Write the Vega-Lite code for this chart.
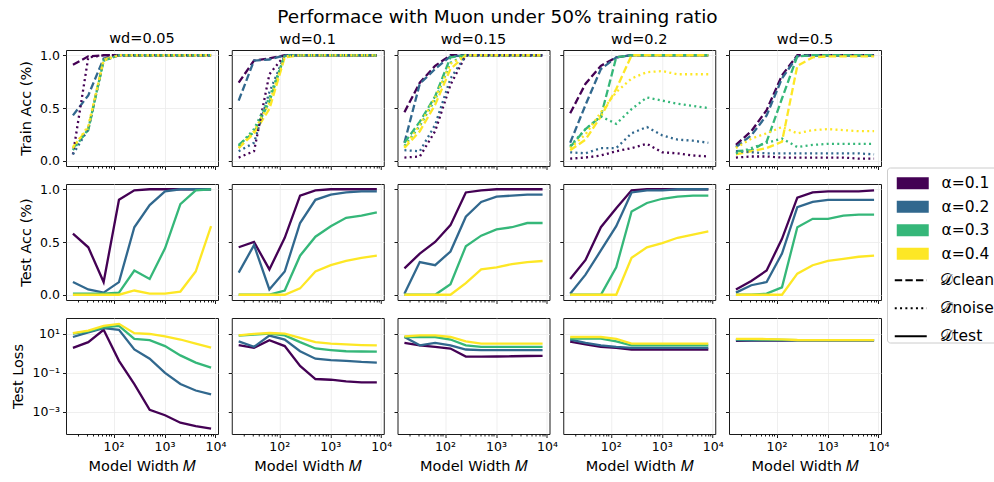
{
"$schema":"https://vega.github.io/schema/vega-lite/v6.json",
"padding":{"left":10,"top":8,"right":0,"bottom":0},
"title":{"text":"Performace with Muon under 50% training ratio","fontSize":18.5,"offset":3.5,"anchor":"middle","dx":-7},
"config":{
 "font":"DejaVu Sans",
 "view":{"continuousWidth":152,"continuousHeight":116,"stroke":"#1a1a1a","strokeWidth":1},
 "axis":{"domain":false,"tickColor":"#000","tickSize":3.5,"tickWidth":0.9,"labelFontSize":12.5,"labelColor":"#000","labelPadding":3,"titleFontSize":14.5,"titleFontWeight":"normal","titleColor":"#000","gridColor":"#ebebeb","gridWidth":0.8,"labelFlush":false,"labelOverlap":false,"titlePadding":6},
 "title":{"fontSize":14.5,"fontWeight":"normal","offset":3,"color":"#000"}
},
"columns":5,
"spacing":{"row":18,"column":13.75},
"bounds":"flush",
"resolve":{"scale":{"x":"independent","y":"independent","color":"shared","strokeDash":"shared"}},
"datasets":{
"t1":[
{"a":"α=0.1","t":"c","m":16,"v":0.91},{"a":"α=0.1","t":"c","m":32,"v":0.99},{"a":"α=0.1","t":"c","m":64,"v":1},{"a":"α=0.1","t":"c","m":128,"v":1},{"a":"α=0.1","t":"c","m":256,"v":1},{"a":"α=0.1","t":"c","m":512,"v":1},{"a":"α=0.1","t":"c","m":1024,"v":1},{"a":"α=0.1","t":"c","m":2048,"v":1},{"a":"α=0.1","t":"c","m":4096,"v":1},{"a":"α=0.1","t":"c","m":8192,"v":1},
{"a":"α=0.2","t":"c","m":16,"v":0.43},{"a":"α=0.2","t":"c","m":32,"v":0.62},{"a":"α=0.2","t":"c","m":64,"v":0.97},{"a":"α=0.2","t":"c","m":128,"v":1},{"a":"α=0.2","t":"c","m":256,"v":1},{"a":"α=0.2","t":"c","m":512,"v":1},{"a":"α=0.2","t":"c","m":1024,"v":1},{"a":"α=0.2","t":"c","m":2048,"v":1},{"a":"α=0.2","t":"c","m":4096,"v":1},{"a":"α=0.2","t":"c","m":8192,"v":1},
{"a":"α=0.3","t":"c","m":16,"v":0.12},{"a":"α=0.3","t":"c","m":32,"v":0.29},{"a":"α=0.3","t":"c","m":64,"v":0.95},{"a":"α=0.3","t":"c","m":128,"v":1},{"a":"α=0.3","t":"c","m":256,"v":1},{"a":"α=0.3","t":"c","m":512,"v":1},{"a":"α=0.3","t":"c","m":1024,"v":1},{"a":"α=0.3","t":"c","m":2048,"v":1},{"a":"α=0.3","t":"c","m":4096,"v":1},{"a":"α=0.3","t":"c","m":8192,"v":1},
{"a":"α=0.4","t":"c","m":16,"v":0.13},{"a":"α=0.4","t":"c","m":32,"v":0.31},{"a":"α=0.4","t":"c","m":64,"v":0.96},{"a":"α=0.4","t":"c","m":128,"v":1},{"a":"α=0.4","t":"c","m":256,"v":1},{"a":"α=0.4","t":"c","m":512,"v":1},{"a":"α=0.4","t":"c","m":1024,"v":1},{"a":"α=0.4","t":"c","m":2048,"v":1},{"a":"α=0.4","t":"c","m":4096,"v":1},{"a":"α=0.4","t":"c","m":8192,"v":1},
{"a":"α=0.1","t":"n","m":16,"v":0.06},{"a":"α=0.1","t":"n","m":32,"v":0.98},{"a":"α=0.1","t":"n","m":64,"v":1},{"a":"α=0.1","t":"n","m":128,"v":1},{"a":"α=0.1","t":"n","m":256,"v":1},{"a":"α=0.1","t":"n","m":512,"v":1},{"a":"α=0.1","t":"n","m":1024,"v":1},{"a":"α=0.1","t":"n","m":2048,"v":1},{"a":"α=0.1","t":"n","m":4096,"v":1},{"a":"α=0.1","t":"n","m":8192,"v":1},
{"a":"α=0.2","t":"n","m":16,"v":0.06},{"a":"α=0.2","t":"n","m":32,"v":0.30},{"a":"α=0.2","t":"n","m":64,"v":0.95},{"a":"α=0.2","t":"n","m":128,"v":1},{"a":"α=0.2","t":"n","m":256,"v":1},{"a":"α=0.2","t":"n","m":512,"v":1},{"a":"α=0.2","t":"n","m":1024,"v":1},{"a":"α=0.2","t":"n","m":2048,"v":1},{"a":"α=0.2","t":"n","m":4096,"v":1},{"a":"α=0.2","t":"n","m":8192,"v":1},
{"a":"α=0.3","t":"n","m":16,"v":0.10},{"a":"α=0.3","t":"n","m":32,"v":0.30},{"a":"α=0.3","t":"n","m":64,"v":0.95},{"a":"α=0.3","t":"n","m":128,"v":1},{"a":"α=0.3","t":"n","m":256,"v":1},{"a":"α=0.3","t":"n","m":512,"v":1},{"a":"α=0.3","t":"n","m":1024,"v":1},{"a":"α=0.3","t":"n","m":2048,"v":1},{"a":"α=0.3","t":"n","m":4096,"v":1},{"a":"α=0.3","t":"n","m":8192,"v":1},
{"a":"α=0.4","t":"n","m":16,"v":0.12},{"a":"α=0.4","t":"n","m":32,"v":0.33},{"a":"α=0.4","t":"n","m":64,"v":0.95},{"a":"α=0.4","t":"n","m":128,"v":1},{"a":"α=0.4","t":"n","m":256,"v":1},{"a":"α=0.4","t":"n","m":512,"v":1},{"a":"α=0.4","t":"n","m":1024,"v":1},{"a":"α=0.4","t":"n","m":2048,"v":1},{"a":"α=0.4","t":"n","m":4096,"v":1},{"a":"α=0.4","t":"n","m":8192,"v":1}
],
"t2":[
{"a":"α=0.1","t":"c","m":16,"v":0.74},{"a":"α=0.1","t":"c","m":32,"v":0.95},{"a":"α=0.1","t":"c","m":64,"v":0.97},{"a":"α=0.1","t":"c","m":128,"v":1},{"a":"α=0.1","t":"c","m":256,"v":1},{"a":"α=0.1","t":"c","m":512,"v":1},{"a":"α=0.1","t":"c","m":1024,"v":1},{"a":"α=0.1","t":"c","m":2048,"v":1},{"a":"α=0.1","t":"c","m":4096,"v":1},{"a":"α=0.1","t":"c","m":8192,"v":1},
{"a":"α=0.2","t":"c","m":16,"v":0.57},{"a":"α=0.2","t":"c","m":32,"v":0.95},{"a":"α=0.2","t":"c","m":64,"v":0.96},{"a":"α=0.2","t":"c","m":128,"v":1},{"a":"α=0.2","t":"c","m":256,"v":1},{"a":"α=0.2","t":"c","m":512,"v":1},{"a":"α=0.2","t":"c","m":1024,"v":1},{"a":"α=0.2","t":"c","m":2048,"v":1},{"a":"α=0.2","t":"c","m":4096,"v":1},{"a":"α=0.2","t":"c","m":8192,"v":1},
{"a":"α=0.3","t":"c","m":16,"v":0.15},{"a":"α=0.3","t":"c","m":32,"v":0.27},{"a":"α=0.3","t":"c","m":64,"v":0.56},{"a":"α=0.3","t":"c","m":128,"v":1},{"a":"α=0.3","t":"c","m":256,"v":1},{"a":"α=0.3","t":"c","m":512,"v":1},{"a":"α=0.3","t":"c","m":1024,"v":1},{"a":"α=0.3","t":"c","m":2048,"v":1},{"a":"α=0.3","t":"c","m":4096,"v":1},{"a":"α=0.3","t":"c","m":8192,"v":1},
{"a":"α=0.4","t":"c","m":16,"v":0.12},{"a":"α=0.4","t":"c","m":32,"v":0.26},{"a":"α=0.4","t":"c","m":64,"v":0.49},{"a":"α=0.4","t":"c","m":128,"v":0.98},{"a":"α=0.4","t":"c","m":256,"v":1},{"a":"α=0.4","t":"c","m":512,"v":1},{"a":"α=0.4","t":"c","m":1024,"v":1},{"a":"α=0.4","t":"c","m":2048,"v":1},{"a":"α=0.4","t":"c","m":4096,"v":1},{"a":"α=0.4","t":"c","m":8192,"v":1},
{"a":"α=0.1","t":"n","m":16,"v":0.03},{"a":"α=0.1","t":"n","m":32,"v":0.09},{"a":"α=0.1","t":"n","m":64,"v":0.82},{"a":"α=0.1","t":"n","m":128,"v":1},{"a":"α=0.1","t":"n","m":256,"v":1},{"a":"α=0.1","t":"n","m":512,"v":1},{"a":"α=0.1","t":"n","m":1024,"v":1},{"a":"α=0.1","t":"n","m":2048,"v":1},{"a":"α=0.1","t":"n","m":4096,"v":1},{"a":"α=0.1","t":"n","m":8192,"v":1},
{"a":"α=0.2","t":"n","m":16,"v":0.09},{"a":"α=0.2","t":"n","m":32,"v":0.17},{"a":"α=0.2","t":"n","m":64,"v":0.65},{"a":"α=0.2","t":"n","m":128,"v":1},{"a":"α=0.2","t":"n","m":256,"v":1},{"a":"α=0.2","t":"n","m":512,"v":1},{"a":"α=0.2","t":"n","m":1024,"v":1},{"a":"α=0.2","t":"n","m":2048,"v":1},{"a":"α=0.2","t":"n","m":4096,"v":1},{"a":"α=0.2","t":"n","m":8192,"v":1},
{"a":"α=0.3","t":"n","m":16,"v":0.14},{"a":"α=0.3","t":"n","m":32,"v":0.30},{"a":"α=0.3","t":"n","m":64,"v":0.60},{"a":"α=0.3","t":"n","m":128,"v":1},{"a":"α=0.3","t":"n","m":256,"v":1},{"a":"α=0.3","t":"n","m":512,"v":1},{"a":"α=0.3","t":"n","m":1024,"v":1},{"a":"α=0.3","t":"n","m":2048,"v":1},{"a":"α=0.3","t":"n","m":4096,"v":1},{"a":"α=0.3","t":"n","m":8192,"v":1},
{"a":"α=0.4","t":"n","m":16,"v":0.12},{"a":"α=0.4","t":"n","m":32,"v":0.28},{"a":"α=0.4","t":"n","m":64,"v":0.55},{"a":"α=0.4","t":"n","m":128,"v":0.99},{"a":"α=0.4","t":"n","m":256,"v":1},{"a":"α=0.4","t":"n","m":512,"v":1},{"a":"α=0.4","t":"n","m":1024,"v":1},{"a":"α=0.4","t":"n","m":2048,"v":1},{"a":"α=0.4","t":"n","m":4096,"v":1},{"a":"α=0.4","t":"n","m":8192,"v":1}
],
"t3":[
{"a":"α=0.1","t":"c","m":16,"v":0.46},{"a":"α=0.1","t":"c","m":32,"v":0.74},{"a":"α=0.1","t":"c","m":64,"v":0.90},{"a":"α=0.1","t":"c","m":128,"v":1},{"a":"α=0.1","t":"c","m":256,"v":1},{"a":"α=0.1","t":"c","m":512,"v":1},{"a":"α=0.1","t":"c","m":1024,"v":1},{"a":"α=0.1","t":"c","m":2048,"v":1},{"a":"α=0.1","t":"c","m":4096,"v":1},{"a":"α=0.1","t":"c","m":8192,"v":1},
{"a":"α=0.2","t":"c","m":16,"v":0.17},{"a":"α=0.2","t":"c","m":32,"v":0.73},{"a":"α=0.2","t":"c","m":64,"v":0.87},{"a":"α=0.2","t":"c","m":128,"v":0.99},{"a":"α=0.2","t":"c","m":256,"v":1},{"a":"α=0.2","t":"c","m":512,"v":1},{"a":"α=0.2","t":"c","m":1024,"v":1},{"a":"α=0.2","t":"c","m":2048,"v":1},{"a":"α=0.2","t":"c","m":4096,"v":1},{"a":"α=0.2","t":"c","m":8192,"v":1},
{"a":"α=0.3","t":"c","m":16,"v":0.17},{"a":"α=0.3","t":"c","m":32,"v":0.37},{"a":"α=0.3","t":"c","m":64,"v":0.61},{"a":"α=0.3","t":"c","m":128,"v":0.98},{"a":"α=0.3","t":"c","m":256,"v":1},{"a":"α=0.3","t":"c","m":512,"v":1},{"a":"α=0.3","t":"c","m":1024,"v":1},{"a":"α=0.3","t":"c","m":2048,"v":1},{"a":"α=0.3","t":"c","m":4096,"v":1},{"a":"α=0.3","t":"c","m":8192,"v":1},
{"a":"α=0.4","t":"c","m":16,"v":0.12},{"a":"α=0.4","t":"c","m":32,"v":0.28},{"a":"α=0.4","t":"c","m":64,"v":0.53},{"a":"α=0.4","t":"c","m":128,"v":0.87},{"a":"α=0.4","t":"c","m":256,"v":1},{"a":"α=0.4","t":"c","m":512,"v":1},{"a":"α=0.4","t":"c","m":1024,"v":1},{"a":"α=0.4","t":"c","m":2048,"v":1},{"a":"α=0.4","t":"c","m":4096,"v":1},{"a":"α=0.4","t":"c","m":8192,"v":1},
{"a":"α=0.1","t":"n","m":16,"v":0.03},{"a":"α=0.1","t":"n","m":32,"v":0.04},{"a":"α=0.1","t":"n","m":64,"v":0.28},{"a":"α=0.1","t":"n","m":128,"v":0.72},{"a":"α=0.1","t":"n","m":256,"v":1},{"a":"α=0.1","t":"n","m":512,"v":1},{"a":"α=0.1","t":"n","m":1024,"v":1},{"a":"α=0.1","t":"n","m":2048,"v":1},{"a":"α=0.1","t":"n","m":4096,"v":1},{"a":"α=0.1","t":"n","m":8192,"v":1},
{"a":"α=0.2","t":"n","m":16,"v":0.10},{"a":"α=0.2","t":"n","m":32,"v":0.09},{"a":"α=0.2","t":"n","m":64,"v":0.34},{"a":"α=0.2","t":"n","m":128,"v":0.78},{"a":"α=0.2","t":"n","m":256,"v":1},{"a":"α=0.2","t":"n","m":512,"v":1},{"a":"α=0.2","t":"n","m":1024,"v":1},{"a":"α=0.2","t":"n","m":2048,"v":1},{"a":"α=0.2","t":"n","m":4096,"v":1},{"a":"α=0.2","t":"n","m":8192,"v":1},
{"a":"α=0.3","t":"n","m":16,"v":0.14},{"a":"α=0.3","t":"n","m":32,"v":0.33},{"a":"α=0.3","t":"n","m":64,"v":0.58},{"a":"α=0.3","t":"n","m":128,"v":0.93},{"a":"α=0.3","t":"n","m":256,"v":1},{"a":"α=0.3","t":"n","m":512,"v":1},{"a":"α=0.3","t":"n","m":1024,"v":1},{"a":"α=0.3","t":"n","m":2048,"v":1},{"a":"α=0.3","t":"n","m":4096,"v":1},{"a":"α=0.3","t":"n","m":8192,"v":1},
{"a":"α=0.4","t":"n","m":16,"v":0.13},{"a":"α=0.4","t":"n","m":32,"v":0.34},{"a":"α=0.4","t":"n","m":64,"v":0.60},{"a":"α=0.4","t":"n","m":128,"v":0.92},{"a":"α=0.4","t":"n","m":256,"v":1},{"a":"α=0.4","t":"n","m":512,"v":1},{"a":"α=0.4","t":"n","m":1024,"v":1},{"a":"α=0.4","t":"n","m":2048,"v":1},{"a":"α=0.4","t":"n","m":4096,"v":1},{"a":"α=0.4","t":"n","m":8192,"v":1}
],
"t4":[
{"a":"α=0.1","t":"c","m":16,"v":0.45},{"a":"α=0.1","t":"c","m":32,"v":0.73},{"a":"α=0.1","t":"c","m":64,"v":0.90},{"a":"α=0.1","t":"c","m":128,"v":0.98},{"a":"α=0.1","t":"c","m":256,"v":1},{"a":"α=0.1","t":"c","m":512,"v":1},{"a":"α=0.1","t":"c","m":1024,"v":1},{"a":"α=0.1","t":"c","m":2048,"v":1},{"a":"α=0.1","t":"c","m":4096,"v":1},{"a":"α=0.1","t":"c","m":8192,"v":1},
{"a":"α=0.2","t":"c","m":16,"v":0.17},{"a":"α=0.2","t":"c","m":32,"v":0.53},{"a":"α=0.2","t":"c","m":64,"v":0.87},{"a":"α=0.2","t":"c","m":128,"v":0.98},{"a":"α=0.2","t":"c","m":256,"v":1},{"a":"α=0.2","t":"c","m":512,"v":1},{"a":"α=0.2","t":"c","m":1024,"v":1},{"a":"α=0.2","t":"c","m":2048,"v":1},{"a":"α=0.2","t":"c","m":4096,"v":1},{"a":"α=0.2","t":"c","m":8192,"v":1},
{"a":"α=0.3","t":"c","m":16,"v":0.13},{"a":"α=0.3","t":"c","m":32,"v":0.30},{"a":"α=0.3","t":"c","m":64,"v":0.42},{"a":"α=0.3","t":"c","m":128,"v":0.98},{"a":"α=0.3","t":"c","m":256,"v":1},{"a":"α=0.3","t":"c","m":512,"v":1},{"a":"α=0.3","t":"c","m":1024,"v":1},{"a":"α=0.3","t":"c","m":2048,"v":1},{"a":"α=0.3","t":"c","m":4096,"v":1},{"a":"α=0.3","t":"c","m":8192,"v":1},
{"a":"α=0.4","t":"c","m":16,"v":0.10},{"a":"α=0.4","t":"c","m":32,"v":0.20},{"a":"α=0.4","t":"c","m":64,"v":0.42},{"a":"α=0.4","t":"c","m":128,"v":0.68},{"a":"α=0.4","t":"c","m":256,"v":1},{"a":"α=0.4","t":"c","m":512,"v":1},{"a":"α=0.4","t":"c","m":1024,"v":1},{"a":"α=0.4","t":"c","m":2048,"v":1},{"a":"α=0.4","t":"c","m":4096,"v":1},{"a":"α=0.4","t":"c","m":8192,"v":1},
{"a":"α=0.1","t":"n","m":16,"v":0.02},{"a":"α=0.1","t":"n","m":32,"v":0.03},{"a":"α=0.1","t":"n","m":64,"v":0.05},{"a":"α=0.1","t":"n","m":128,"v":0.09},{"a":"α=0.1","t":"n","m":256,"v":0.12},{"a":"α=0.1","t":"n","m":512,"v":0.16},{"a":"α=0.1","t":"n","m":1024,"v":0.08},{"a":"α=0.1","t":"n","m":2048,"v":0.07},{"a":"α=0.1","t":"n","m":4096,"v":0.05},{"a":"α=0.1","t":"n","m":8192,"v":0.04},
{"a":"α=0.2","t":"n","m":16,"v":0.08},{"a":"α=0.2","t":"n","m":32,"v":0.07},{"a":"α=0.2","t":"n","m":64,"v":0.12},{"a":"α=0.2","t":"n","m":128,"v":0.12},{"a":"α=0.2","t":"n","m":256,"v":0.26},{"a":"α=0.2","t":"n","m":512,"v":0.32},{"a":"α=0.2","t":"n","m":1024,"v":0.24},{"a":"α=0.2","t":"n","m":2048,"v":0.20},{"a":"α=0.2","t":"n","m":4096,"v":0.19},{"a":"α=0.2","t":"n","m":8192,"v":0.17},
{"a":"α=0.3","t":"n","m":16,"v":0.14},{"a":"α=0.3","t":"n","m":32,"v":0.30},{"a":"α=0.3","t":"n","m":64,"v":0.42},{"a":"α=0.3","t":"n","m":128,"v":0.35},{"a":"α=0.3","t":"n","m":256,"v":0.49},{"a":"α=0.3","t":"n","m":512,"v":0.60},{"a":"α=0.3","t":"n","m":1024,"v":0.57},{"a":"α=0.3","t":"n","m":2048,"v":0.54},{"a":"α=0.3","t":"n","m":4096,"v":0.52},{"a":"α=0.3","t":"n","m":8192,"v":0.50},
{"a":"α=0.4","t":"n","m":16,"v":0.12},{"a":"α=0.4","t":"n","m":32,"v":0.25},{"a":"α=0.4","t":"n","m":64,"v":0.46},{"a":"α=0.4","t":"n","m":128,"v":0.65},{"a":"α=0.4","t":"n","m":256,"v":0.78},{"a":"α=0.4","t":"n","m":512,"v":0.84},{"a":"α=0.4","t":"n","m":1024,"v":0.85},{"a":"α=0.4","t":"n","m":2048,"v":0.82},{"a":"α=0.4","t":"n","m":4096,"v":0.82},{"a":"α=0.4","t":"n","m":8192,"v":0.82}
],
"t5":[
{"a":"α=0.1","t":"c","m":16,"v":0.15},{"a":"α=0.1","t":"c","m":32,"v":0.28},{"a":"α=0.1","t":"c","m":64,"v":0.48},{"a":"α=0.1","t":"c","m":128,"v":0.81},{"a":"α=0.1","t":"c","m":256,"v":1},{"a":"α=0.1","t":"c","m":512,"v":1},{"a":"α=0.1","t":"c","m":1024,"v":1},{"a":"α=0.1","t":"c","m":2048,"v":1},{"a":"α=0.1","t":"c","m":4096,"v":1},{"a":"α=0.1","t":"c","m":8192,"v":1},
{"a":"α=0.2","t":"c","m":16,"v":0.13},{"a":"α=0.2","t":"c","m":32,"v":0.24},{"a":"α=0.2","t":"c","m":64,"v":0.43},{"a":"α=0.2","t":"c","m":128,"v":0.78},{"a":"α=0.2","t":"c","m":256,"v":0.99},{"a":"α=0.2","t":"c","m":512,"v":1},{"a":"α=0.2","t":"c","m":1024,"v":1},{"a":"α=0.2","t":"c","m":2048,"v":1},{"a":"α=0.2","t":"c","m":4096,"v":1},{"a":"α=0.2","t":"c","m":8192,"v":1},
{"a":"α=0.3","t":"c","m":16,"v":0.09},{"a":"α=0.3","t":"c","m":32,"v":0.10},{"a":"α=0.3","t":"c","m":64,"v":0.18},{"a":"α=0.3","t":"c","m":128,"v":0.59},{"a":"α=0.3","t":"c","m":256,"v":0.99},{"a":"α=0.3","t":"c","m":512,"v":1},{"a":"α=0.3","t":"c","m":1024,"v":1},{"a":"α=0.3","t":"c","m":2048,"v":1},{"a":"α=0.3","t":"c","m":4096,"v":1},{"a":"α=0.3","t":"c","m":8192,"v":1},
{"a":"α=0.4","t":"c","m":16,"v":0.06},{"a":"α=0.4","t":"c","m":32,"v":0.09},{"a":"α=0.4","t":"c","m":64,"v":0.12},{"a":"α=0.4","t":"c","m":128,"v":0.18},{"a":"α=0.4","t":"c","m":256,"v":0.90},{"a":"α=0.4","t":"c","m":512,"v":0.98},{"a":"α=0.4","t":"c","m":1024,"v":0.99},{"a":"α=0.4","t":"c","m":2048,"v":0.99},{"a":"α=0.4","t":"c","m":4096,"v":0.99},{"a":"α=0.4","t":"c","m":8192,"v":0.99},
{"a":"α=0.1","t":"n","m":16,"v":0.03},{"a":"α=0.1","t":"n","m":32,"v":0.04},{"a":"α=0.1","t":"n","m":64,"v":0.04},{"a":"α=0.1","t":"n","m":128,"v":0.03},{"a":"α=0.1","t":"n","m":256,"v":0.03},{"a":"α=0.1","t":"n","m":512,"v":0.03},{"a":"α=0.1","t":"n","m":1024,"v":0.03},{"a":"α=0.1","t":"n","m":2048,"v":0.03},{"a":"α=0.1","t":"n","m":4096,"v":0.02},{"a":"α=0.1","t":"n","m":8192,"v":0.02},
{"a":"α=0.2","t":"n","m":16,"v":0.09},{"a":"α=0.2","t":"n","m":32,"v":0.08},{"a":"α=0.2","t":"n","m":64,"v":0.07},{"a":"α=0.2","t":"n","m":128,"v":0.07},{"a":"α=0.2","t":"n","m":256,"v":0.07},{"a":"α=0.2","t":"n","m":512,"v":0.07},{"a":"α=0.2","t":"n","m":1024,"v":0.07},{"a":"α=0.2","t":"n","m":2048,"v":0.07},{"a":"α=0.2","t":"n","m":4096,"v":0.07},{"a":"α=0.2","t":"n","m":8192,"v":0.06},
{"a":"α=0.3","t":"n","m":16,"v":0.07},{"a":"α=0.3","t":"n","m":32,"v":0.12},{"a":"α=0.3","t":"n","m":64,"v":0.17},{"a":"α=0.3","t":"n","m":128,"v":0.21},{"a":"α=0.3","t":"n","m":256,"v":0.13},{"a":"α=0.3","t":"n","m":512,"v":0.15},{"a":"α=0.3","t":"n","m":1024,"v":0.16},{"a":"α=0.3","t":"n","m":2048,"v":0.16},{"a":"α=0.3","t":"n","m":4096,"v":0.16},{"a":"α=0.3","t":"n","m":8192,"v":0.16},
{"a":"α=0.4","t":"n","m":16,"v":0.12},{"a":"α=0.4","t":"n","m":32,"v":0.21},{"a":"α=0.4","t":"n","m":64,"v":0.26},{"a":"α=0.4","t":"n","m":128,"v":0.32},{"a":"α=0.4","t":"n","m":256,"v":0.26},{"a":"α=0.4","t":"n","m":512,"v":0.29},{"a":"α=0.4","t":"n","m":1024,"v":0.30},{"a":"α=0.4","t":"n","m":2048,"v":0.29},{"a":"α=0.4","t":"n","m":4096,"v":0.28},{"a":"α=0.4","t":"n","m":8192,"v":0.28}
],
"e1":[
{"a":"α=0.1","m":16,"v":0.58},{"a":"α=0.1","m":32,"v":0.45},{"a":"α=0.1","m":64,"v":0.12},{"a":"α=0.1","m":128,"v":0.90},{"a":"α=0.1","m":256,"v":0.99},{"a":"α=0.1","m":512,"v":1},{"a":"α=0.1","m":1024,"v":1},{"a":"α=0.1","m":2048,"v":1},{"a":"α=0.1","m":4096,"v":1},{"a":"α=0.1","m":8192,"v":1},
{"a":"α=0.2","m":16,"v":0.12},{"a":"α=0.2","m":32,"v":0.05},{"a":"α=0.2","m":64,"v":0.02},{"a":"α=0.2","m":128,"v":0.12},{"a":"α=0.2","m":256,"v":0.64},{"a":"α=0.2","m":512,"v":0.85},{"a":"α=0.2","m":1024,"v":0.98},{"a":"α=0.2","m":2048,"v":1},{"a":"α=0.2","m":4096,"v":1},{"a":"α=0.2","m":8192,"v":1},
{"a":"α=0.3","m":16,"v":0.01},{"a":"α=0.3","m":32,"v":0.01},{"a":"α=0.3","m":64,"v":0.01},{"a":"α=0.3","m":128,"v":0.02},{"a":"α=0.3","m":256,"v":0.23},{"a":"α=0.3","m":512,"v":0.15},{"a":"α=0.3","m":1024,"v":0.44},{"a":"α=0.3","m":2048,"v":0.86},{"a":"α=0.3","m":4096,"v":0.99},{"a":"α=0.3","m":8192,"v":1},
{"a":"α=0.4","m":16,"v":0},{"a":"α=0.4","m":32,"v":0},{"a":"α=0.4","m":64,"v":0},{"a":"α=0.4","m":128,"v":0},{"a":"α=0.4","m":256,"v":0.04},{"a":"α=0.4","m":512,"v":0.01},{"a":"α=0.4","m":1024,"v":0.01},{"a":"α=0.4","m":2048,"v":0.03},{"a":"α=0.4","m":4096,"v":0.22},{"a":"α=0.4","m":8192,"v":0.65}
],
"e2":[
{"a":"α=0.1","m":16,"v":0.45},{"a":"α=0.1","m":32,"v":0.50},{"a":"α=0.1","m":64,"v":0.24},{"a":"α=0.1","m":128,"v":0.54},{"a":"α=0.1","m":256,"v":0.94},{"a":"α=0.1","m":512,"v":0.99},{"a":"α=0.1","m":1024,"v":1},{"a":"α=0.1","m":2048,"v":1},{"a":"α=0.1","m":4096,"v":1},{"a":"α=0.1","m":8192,"v":1},
{"a":"α=0.2","m":16,"v":0.21},{"a":"α=0.2","m":32,"v":0.47},{"a":"α=0.2","m":64,"v":0.05},{"a":"α=0.2","m":128,"v":0.22},{"a":"α=0.2","m":256,"v":0.68},{"a":"α=0.2","m":512,"v":0.90},{"a":"α=0.2","m":1024,"v":0.95},{"a":"α=0.2","m":2048,"v":0.97},{"a":"α=0.2","m":4096,"v":0.98},{"a":"α=0.2","m":8192,"v":0.98},
{"a":"α=0.3","m":16,"v":0},{"a":"α=0.3","m":32,"v":0},{"a":"α=0.3","m":64,"v":0},{"a":"α=0.3","m":128,"v":0.04},{"a":"α=0.3","m":256,"v":0.37},{"a":"α=0.3","m":512,"v":0.55},{"a":"α=0.3","m":1024,"v":0.65},{"a":"α=0.3","m":2048,"v":0.73},{"a":"α=0.3","m":4096,"v":0.75},{"a":"α=0.3","m":8192,"v":0.78},
{"a":"α=0.4","m":16,"v":0},{"a":"α=0.4","m":32,"v":0},{"a":"α=0.4","m":64,"v":0},{"a":"α=0.4","m":128,"v":0},{"a":"α=0.4","m":256,"v":0.06},{"a":"α=0.4","m":512,"v":0.22},{"a":"α=0.4","m":1024,"v":0.28},{"a":"α=0.4","m":2048,"v":0.32},{"a":"α=0.4","m":4096,"v":0.35},{"a":"α=0.4","m":8192,"v":0.37}
],
"e3":[
{"a":"α=0.1","m":16,"v":0.25},{"a":"α=0.1","m":32,"v":0.39},{"a":"α=0.1","m":64,"v":0.50},{"a":"α=0.1","m":128,"v":0.66},{"a":"α=0.1","m":256,"v":0.97},{"a":"α=0.1","m":512,"v":0.99},{"a":"α=0.1","m":1024,"v":1},{"a":"α=0.1","m":2048,"v":1},{"a":"α=0.1","m":4096,"v":1},{"a":"α=0.1","m":8192,"v":1},
{"a":"α=0.2","m":16,"v":0.01},{"a":"α=0.2","m":32,"v":0.31},{"a":"α=0.2","m":64,"v":0.28},{"a":"α=0.2","m":128,"v":0.41},{"a":"α=0.2","m":256,"v":0.74},{"a":"α=0.2","m":512,"v":0.88},{"a":"α=0.2","m":1024,"v":0.93},{"a":"α=0.2","m":2048,"v":0.94},{"a":"α=0.2","m":4096,"v":0.95},{"a":"α=0.2","m":8192,"v":0.95},
{"a":"α=0.3","m":16,"v":0},{"a":"α=0.3","m":32,"v":0},{"a":"α=0.3","m":64,"v":0},{"a":"α=0.3","m":128,"v":0.10},{"a":"α=0.3","m":256,"v":0.46},{"a":"α=0.3","m":512,"v":0.56},{"a":"α=0.3","m":1024,"v":0.62},{"a":"α=0.3","m":2048,"v":0.64},{"a":"α=0.3","m":4096,"v":0.68},{"a":"α=0.3","m":8192,"v":0.68},
{"a":"α=0.4","m":16,"v":0},{"a":"α=0.4","m":32,"v":0},{"a":"α=0.4","m":64,"v":0},{"a":"α=0.4","m":128,"v":0},{"a":"α=0.4","m":256,"v":0.11},{"a":"α=0.4","m":512,"v":0.24},{"a":"α=0.4","m":1024,"v":0.26},{"a":"α=0.4","m":2048,"v":0.29},{"a":"α=0.4","m":4096,"v":0.31},{"a":"α=0.4","m":8192,"v":0.32}
],
"e4":[
{"a":"α=0.1","m":16,"v":0.15},{"a":"α=0.1","m":32,"v":0.33},{"a":"α=0.1","m":64,"v":0.64},{"a":"α=0.1","m":128,"v":0.82},{"a":"α=0.1","m":256,"v":0.99},{"a":"α=0.1","m":512,"v":1},{"a":"α=0.1","m":1024,"v":1},{"a":"α=0.1","m":2048,"v":1},{"a":"α=0.1","m":4096,"v":1},{"a":"α=0.1","m":8192,"v":1},
{"a":"α=0.2","m":16,"v":0.01},{"a":"α=0.2","m":32,"v":0.19},{"a":"α=0.2","m":64,"v":0.42},{"a":"α=0.2","m":128,"v":0.65},{"a":"α=0.2","m":256,"v":0.97},{"a":"α=0.2","m":512,"v":0.99},{"a":"α=0.2","m":1024,"v":0.99},{"a":"α=0.2","m":2048,"v":1},{"a":"α=0.2","m":4096,"v":1},{"a":"α=0.2","m":8192,"v":1},
{"a":"α=0.3","m":16,"v":0},{"a":"α=0.3","m":32,"v":0},{"a":"α=0.3","m":64,"v":0},{"a":"α=0.3","m":128,"v":0.26},{"a":"α=0.3","m":256,"v":0.79},{"a":"α=0.3","m":512,"v":0.87},{"a":"α=0.3","m":1024,"v":0.91},{"a":"α=0.3","m":2048,"v":0.93},{"a":"α=0.3","m":4096,"v":0.94},{"a":"α=0.3","m":8192,"v":0.94},
{"a":"α=0.4","m":16,"v":0},{"a":"α=0.4","m":32,"v":0},{"a":"α=0.4","m":64,"v":0},{"a":"α=0.4","m":128,"v":0},{"a":"α=0.4","m":256,"v":0.35},{"a":"α=0.4","m":512,"v":0.45},{"a":"α=0.4","m":1024,"v":0.49},{"a":"α=0.4","m":2048,"v":0.54},{"a":"α=0.4","m":4096,"v":0.57},{"a":"α=0.4","m":8192,"v":0.60}
],
"e5":[
{"a":"α=0.1","m":16,"v":0.05},{"a":"α=0.1","m":32,"v":0.13},{"a":"α=0.1","m":64,"v":0.23},{"a":"α=0.1","m":128,"v":0.53},{"a":"α=0.1","m":256,"v":0.92},{"a":"α=0.1","m":512,"v":0.97},{"a":"α=0.1","m":1024,"v":0.98},{"a":"α=0.1","m":2048,"v":0.98},{"a":"α=0.1","m":4096,"v":0.98},{"a":"α=0.1","m":8192,"v":0.99},
{"a":"α=0.2","m":16,"v":0.02},{"a":"α=0.2","m":32,"v":0.09},{"a":"α=0.2","m":64,"v":0.12},{"a":"α=0.2","m":128,"v":0.39},{"a":"α=0.2","m":256,"v":0.83},{"a":"α=0.2","m":512,"v":0.88},{"a":"α=0.2","m":1024,"v":0.90},{"a":"α=0.2","m":2048,"v":0.90},{"a":"α=0.2","m":4096,"v":0.90},{"a":"α=0.2","m":8192,"v":0.90},
{"a":"α=0.3","m":16,"v":0},{"a":"α=0.3","m":32,"v":0},{"a":"α=0.3","m":64,"v":0.01},{"a":"α=0.3","m":128,"v":0.07},{"a":"α=0.3","m":256,"v":0.64},{"a":"α=0.3","m":512,"v":0.72},{"a":"α=0.3","m":1024,"v":0.72},{"a":"α=0.3","m":2048,"v":0.75},{"a":"α=0.3","m":4096,"v":0.76},{"a":"α=0.3","m":8192,"v":0.76},
{"a":"α=0.4","m":16,"v":0},{"a":"α=0.4","m":32,"v":0},{"a":"α=0.4","m":64,"v":0},{"a":"α=0.4","m":128,"v":0},{"a":"α=0.4","m":256,"v":0.20},{"a":"α=0.4","m":512,"v":0.28},{"a":"α=0.4","m":1024,"v":0.32},{"a":"α=0.4","m":2048,"v":0.34},{"a":"α=0.4","m":4096,"v":0.36},{"a":"α=0.4","m":8192,"v":0.37}
],
"l1":[
{"a":"α=0.1","m":16,"v":1.95},{"a":"α=0.1","m":32,"v":3.8},{"a":"α=0.1","m":64,"v":16.5},{"a":"α=0.1","m":128,"v":0.42},{"a":"α=0.1","m":256,"v":0.027},{"a":"α=0.1","m":512,"v":0.0013},{"a":"α=0.1","m":1024,"v":0.00068},{"a":"α=0.1","m":2048,"v":0.00028},{"a":"α=0.1","m":4096,"v":0.00019},{"a":"α=0.1","m":8192,"v":0.00014},
{"a":"α=0.2","m":16,"v":7},{"a":"α=0.2","m":32,"v":12},{"a":"α=0.2","m":64,"v":20},{"a":"α=0.2","m":128,"v":16.5},{"a":"α=0.2","m":256,"v":1.6},{"a":"α=0.2","m":512,"v":0.54},{"a":"α=0.2","m":1024,"v":0.1},{"a":"α=0.2","m":2048,"v":0.027},{"a":"α=0.2","m":4096,"v":0.0126},{"a":"α=0.2","m":8192,"v":0.008},
{"a":"α=0.3","m":16,"v":10.4},{"a":"α=0.3","m":32,"v":13.6},{"a":"α=0.3","m":64,"v":22},{"a":"α=0.3","m":128,"v":26},{"a":"α=0.3","m":256,"v":5.6},{"a":"α=0.3","m":512,"v":4.8},{"a":"α=0.3","m":1024,"v":2.4},{"a":"α=0.3","m":2048,"v":0.8},{"a":"α=0.3","m":4096,"v":0.34},{"a":"α=0.3","m":8192,"v":0.19},
{"a":"α=0.4","m":16,"v":11},{"a":"α=0.4","m":32,"v":15},{"a":"α=0.4","m":64,"v":26},{"a":"α=0.4","m":128,"v":33},{"a":"α=0.4","m":256,"v":11},{"a":"α=0.4","m":512,"v":10},{"a":"α=0.4","m":1024,"v":7.6},{"a":"α=0.4","m":2048,"v":5.2},{"a":"α=0.4","m":4096,"v":3.2},{"a":"α=0.4","m":8192,"v":2.0}
],
"l2":[
{"a":"α=0.1","m":16,"v":2.7},{"a":"α=0.1","m":32,"v":1.95},{"a":"α=0.1","m":64,"v":4.8},{"a":"α=0.1","m":128,"v":2.4},{"a":"α=0.1","m":256,"v":0.23},{"a":"α=0.1","m":512,"v":0.049},{"a":"α=0.1","m":1024,"v":0.045},{"a":"α=0.1","m":2048,"v":0.037},{"a":"α=0.1","m":4096,"v":0.033},{"a":"α=0.1","m":8192,"v":0.033},
{"a":"α=0.2","m":16,"v":4.2},{"a":"α=0.2","m":32,"v":2.2},{"a":"α=0.2","m":64,"v":8.3},{"a":"α=0.2","m":128,"v":5.2},{"a":"α=0.2","m":256,"v":1.3},{"a":"α=0.2","m":512,"v":0.54},{"a":"α=0.2","m":1024,"v":0.46},{"a":"α=0.2","m":2048,"v":0.42},{"a":"α=0.2","m":4096,"v":0.37},{"a":"α=0.2","m":8192,"v":0.34},
{"a":"α=0.3","m":16,"v":8.3},{"a":"α=0.3","m":32,"v":9.3},{"a":"α=0.3","m":64,"v":10.4},{"a":"α=0.3","m":128,"v":8.5},{"a":"α=0.3","m":256,"v":3.8},{"a":"α=0.3","m":512,"v":1.8},{"a":"α=0.3","m":1024,"v":1.5},{"a":"α=0.3","m":2048,"v":1.3},{"a":"α=0.3","m":4096,"v":1.26},{"a":"α=0.3","m":8192,"v":1.23},
{"a":"α=0.4","m":16,"v":8.5},{"a":"α=0.4","m":32,"v":10},{"a":"α=0.4","m":64,"v":11.2},{"a":"α=0.4","m":128,"v":10.4},{"a":"α=0.4","m":256,"v":6.3},{"a":"α=0.4","m":512,"v":3.8},{"a":"α=0.4","m":1024,"v":3.2},{"a":"α=0.4","m":2048,"v":2.9},{"a":"α=0.4","m":4096,"v":2.7},{"a":"α=0.4","m":8192,"v":2.6}
],
"l3":[
{"a":"α=0.1","m":16,"v":3.5},{"a":"α=0.1","m":32,"v":2.6},{"a":"α=0.1","m":64,"v":2.2},{"a":"α=0.1","m":128,"v":1.8},{"a":"α=0.1","m":256,"v":0.69},{"a":"α=0.1","m":512,"v":0.69},{"a":"α=0.1","m":1024,"v":0.7},{"a":"α=0.1","m":2048,"v":0.72},{"a":"α=0.1","m":4096,"v":0.74},{"a":"α=0.1","m":8192,"v":0.75},
{"a":"α=0.2","m":16,"v":7},{"a":"α=0.2","m":32,"v":2.6},{"a":"α=0.2","m":64,"v":3.5},{"a":"α=0.2","m":128,"v":2.6},{"a":"α=0.2","m":256,"v":1.6},{"a":"α=0.2","m":512,"v":1.5},{"a":"α=0.2","m":1024,"v":1.5},{"a":"α=0.2","m":2048,"v":1.5},{"a":"α=0.2","m":4096,"v":1.5},{"a":"α=0.2","m":8192,"v":1.5},
{"a":"α=0.3","m":16,"v":7},{"a":"α=0.3","m":32,"v":7},{"a":"α=0.3","m":64,"v":7},{"a":"α=0.3","m":128,"v":5.2},{"a":"α=0.3","m":256,"v":2.6},{"a":"α=0.3","m":512,"v":2.2},{"a":"α=0.3","m":1024,"v":2.2},{"a":"α=0.3","m":2048,"v":2.2},{"a":"α=0.3","m":4096,"v":2.2},{"a":"α=0.3","m":8192,"v":2.2},
{"a":"α=0.4","m":16,"v":7.6},{"a":"α=0.4","m":32,"v":8.5},{"a":"α=0.4","m":64,"v":8.5},{"a":"α=0.4","m":128,"v":7},{"a":"α=0.4","m":256,"v":4.2},{"a":"α=0.4","m":512,"v":3.2},{"a":"α=0.4","m":1024,"v":3.2},{"a":"α=0.4","m":2048,"v":3.2},{"a":"α=0.4","m":4096,"v":3.2},{"a":"α=0.4","m":8192,"v":3.2}
],
"l4":[
{"a":"α=0.1","m":16,"v":4.0},{"a":"α=0.1","m":32,"v":2.9},{"a":"α=0.1","m":64,"v":2.2},{"a":"α=0.1","m":128,"v":1.95},{"a":"α=0.1","m":256,"v":1.6},{"a":"α=0.1","m":512,"v":1.6},{"a":"α=0.1","m":1024,"v":1.6},{"a":"α=0.1","m":2048,"v":1.6},{"a":"α=0.1","m":4096,"v":1.6},{"a":"α=0.1","m":8192,"v":1.6},
{"a":"α=0.2","m":16,"v":5.2},{"a":"α=0.2","m":32,"v":3.5},{"a":"α=0.2","m":64,"v":2.6},{"a":"α=0.2","m":128,"v":2.2},{"a":"α=0.2","m":256,"v":1.95},{"a":"α=0.2","m":512,"v":1.95},{"a":"α=0.2","m":1024,"v":1.95},{"a":"α=0.2","m":2048,"v":1.95},{"a":"α=0.2","m":4096,"v":1.95},{"a":"α=0.2","m":8192,"v":1.95},
{"a":"α=0.3","m":16,"v":5.8},{"a":"α=0.3","m":32,"v":5.8},{"a":"α=0.3","m":64,"v":5.8},{"a":"α=0.3","m":128,"v":4.2},{"a":"α=0.3","m":256,"v":2.6},{"a":"α=0.3","m":512,"v":2.6},{"a":"α=0.3","m":1024,"v":2.6},{"a":"α=0.3","m":2048,"v":2.6},{"a":"α=0.3","m":4096,"v":2.6},{"a":"α=0.3","m":8192,"v":2.6},
{"a":"α=0.4","m":16,"v":7},{"a":"α=0.4","m":32,"v":7},{"a":"α=0.4","m":64,"v":7},{"a":"α=0.4","m":128,"v":5.6},{"a":"α=0.4","m":256,"v":3.2},{"a":"α=0.4","m":512,"v":3.2},{"a":"α=0.4","m":1024,"v":3.2},{"a":"α=0.4","m":2048,"v":3.2},{"a":"α=0.4","m":4096,"v":3.2},{"a":"α=0.4","m":8192,"v":3.2}
],
"l5":[
{"a":"α=0.1","m":16,"v":4.5},{"a":"α=0.1","m":32,"v":4.6},{"a":"α=0.1","m":64,"v":4.6},{"a":"α=0.1","m":128,"v":4.6},{"a":"α=0.1","m":256,"v":4.7},{"a":"α=0.1","m":512,"v":4.7},{"a":"α=0.1","m":1024,"v":4.7},{"a":"α=0.1","m":2048,"v":4.7},{"a":"α=0.1","m":4096,"v":4.7},{"a":"α=0.1","m":8192,"v":4.7},
{"a":"α=0.2","m":16,"v":4.8},{"a":"α=0.2","m":32,"v":4.7},{"a":"α=0.2","m":64,"v":4.7},{"a":"α=0.2","m":128,"v":4.7},{"a":"α=0.2","m":256,"v":4.7},{"a":"α=0.2","m":512,"v":4.7},{"a":"α=0.2","m":1024,"v":4.7},{"a":"α=0.2","m":2048,"v":4.7},{"a":"α=0.2","m":4096,"v":4.7},{"a":"α=0.2","m":8192,"v":4.7},
{"a":"α=0.3","m":16,"v":5.3},{"a":"α=0.3","m":32,"v":5.3},{"a":"α=0.3","m":64,"v":5.2},{"a":"α=0.3","m":128,"v":5.0},{"a":"α=0.3","m":256,"v":4.8},{"a":"α=0.3","m":512,"v":4.8},{"a":"α=0.3","m":1024,"v":4.8},{"a":"α=0.3","m":2048,"v":4.8},{"a":"α=0.3","m":4096,"v":4.8},{"a":"α=0.3","m":8192,"v":4.8},
{"a":"α=0.4","m":16,"v":5.6},{"a":"α=0.4","m":32,"v":5.6},{"a":"α=0.4","m":64,"v":5.5},{"a":"α=0.4","m":128,"v":5.3},{"a":"α=0.4","m":256,"v":4.9},{"a":"α=0.4","m":512,"v":4.8},{"a":"α=0.4","m":1024,"v":4.8},{"a":"α=0.4","m":2048,"v":4.8},{"a":"α=0.4","m":4096,"v":4.8},{"a":"α=0.4","m":8192,"v":4.8}
]
},
"concat":[
{"data":{"name":"t1"},"title":"wd=0.05","mark":"line","encoding":{
 "x":{"field":"m","type":"quantitative","scale":{"type":"log","domain":[11.7,11200],"nice":false},"axis":{"title":null,"labels":false,"values":[20,30,40,50,60,70,80,90,100,200,300,400,500,600,700,800,900,1000,2000,3000,4000,5000,6000,7000,8000,9000,10000],"tickSize":{"condition":{"test":"indexof([100,1000,10000],datum.value)>=0","value":3.5},"value":2},"gridOpacity":{"condition":{"test":"indexof([100,1000,10000],datum.value)>=0","value":1},"value":0}}},
 "y":{"field":"v","type":"quantitative","scale":{"domain":[-0.05,1.05],"nice":false,"zero":false},"axis":{"values":[0,0.5,1],"format":".1f","title":"Train Acc (%)"}},
 "color":{"field":"a","type":"nominal","scale":{"domain":["α=0.1","α=0.2","α=0.3","α=0.4","x1","x2","x3"],"range":["#440154","#31688e","#35b779","#fde725","rgba(0,0,0,0)","rgba(0,0,0,0)","rgba(0,0,0,0)"]},
   "legend":{"orient":"none","legendX":821,"legendY":117.5,"title":null,"symbolType":"M-4.57,-1.4H4.57M-4.57,-0.84H4.57M-4.57,-0.28H4.57M-4.57,0.28H4.57M-4.57,0.84H4.57M-4.57,1.4H4.57","symbolSize":49,"symbolStrokeWidth":2.3,"symbolOffset":10,"labelFontSize":15.5,"labelOffset":21,"rowPadding":3.5,"padding":8,"fillColor":"#ffffff","strokeColor":"#cccccc","cornerRadius":3,
   "labelExpr":"slice(datum.value,0,1)=='x'?'':datum.value"}},
 "strokeDash":{"field":"t","type":"nominal","scale":{"domain":["c","n","t"],"range":[[7.4,3.2],[2,3.3],[1,0]]},
   "legend":{"orient":"none","legendX":827,"legendY":222.5,"title":null,"symbolType":"M-4.57,0H4.57","symbolSize":49,"symbolStrokeWidth":2.2,"symbolStrokeColor":"#000000","symbolOffset":10,"labelFontSize":15.5,"labelOffset":21,"rowPadding":11,"padding":0,
   "labelExpr":"datum.value=='c'?'𝒟clean':datum.value=='n'?'𝒟̃noise':'𝒟test'"}},
 "strokeWidth":{"value":2.3}}},
{"data":{"name":"t2"},"title":"wd=0.1","mark":"line","encoding":{
 "x":{"field":"m","type":"quantitative","scale":{"type":"log","domain":[11.7,11200],"nice":false},"axis":{"title":null,"labels":false,"values":[20,30,40,50,60,70,80,90,100,200,300,400,500,600,700,800,900,1000,2000,3000,4000,5000,6000,7000,8000,9000,10000],"tickSize":{"condition":{"test":"indexof([100,1000,10000],datum.value)>=0","value":3.5},"value":2},"gridOpacity":{"condition":{"test":"indexof([100,1000,10000],datum.value)>=0","value":1},"value":0}}},
 "y":{"field":"v","type":"quantitative","scale":{"domain":[-0.05,1.05],"nice":false,"zero":false},"axis":{"values":[0,0.5,1],"labels":false,"title":null}},
 "color":{"field":"a","type":"nominal"},
 "strokeDash":{"field":"t","type":"nominal"},
 "strokeWidth":{"value":2.3}}},
{"data":{"name":"t3"},"title":"wd=0.15","mark":"line","encoding":{
 "x":{"field":"m","type":"quantitative","scale":{"type":"log","domain":[11.7,11200],"nice":false},"axis":{"title":null,"labels":false,"values":[20,30,40,50,60,70,80,90,100,200,300,400,500,600,700,800,900,1000,2000,3000,4000,5000,6000,7000,8000,9000,10000],"tickSize":{"condition":{"test":"indexof([100,1000,10000],datum.value)>=0","value":3.5},"value":2},"gridOpacity":{"condition":{"test":"indexof([100,1000,10000],datum.value)>=0","value":1},"value":0}}},
 "y":{"field":"v","type":"quantitative","scale":{"domain":[-0.05,1.05],"nice":false,"zero":false},"axis":{"values":[0,0.5,1],"labels":false,"title":null}},
 "color":{"field":"a","type":"nominal"},
 "strokeDash":{"field":"t","type":"nominal"},
 "strokeWidth":{"value":2.3}}},
{"data":{"name":"t4"},"title":"wd=0.2","mark":"line","encoding":{
 "x":{"field":"m","type":"quantitative","scale":{"type":"log","domain":[11.7,11200],"nice":false},"axis":{"title":null,"labels":false,"values":[20,30,40,50,60,70,80,90,100,200,300,400,500,600,700,800,900,1000,2000,3000,4000,5000,6000,7000,8000,9000,10000],"tickSize":{"condition":{"test":"indexof([100,1000,10000],datum.value)>=0","value":3.5},"value":2},"gridOpacity":{"condition":{"test":"indexof([100,1000,10000],datum.value)>=0","value":1},"value":0}}},
 "y":{"field":"v","type":"quantitative","scale":{"domain":[-0.05,1.05],"nice":false,"zero":false},"axis":{"values":[0,0.5,1],"labels":false,"title":null}},
 "color":{"field":"a","type":"nominal"},
 "strokeDash":{"field":"t","type":"nominal"},
 "strokeWidth":{"value":2.3}}},
{"data":{"name":"t5"},"title":"wd=0.5","mark":"line","encoding":{
 "x":{"field":"m","type":"quantitative","scale":{"type":"log","domain":[11.7,11200],"nice":false},"axis":{"title":null,"labels":false,"values":[20,30,40,50,60,70,80,90,100,200,300,400,500,600,700,800,900,1000,2000,3000,4000,5000,6000,7000,8000,9000,10000],"tickSize":{"condition":{"test":"indexof([100,1000,10000],datum.value)>=0","value":3.5},"value":2},"gridOpacity":{"condition":{"test":"indexof([100,1000,10000],datum.value)>=0","value":1},"value":0}}},
 "y":{"field":"v","type":"quantitative","scale":{"domain":[-0.05,1.05],"nice":false,"zero":false},"axis":{"values":[0,0.5,1],"labels":false,"title":null}},
 "color":{"field":"a","type":"nominal"},
 "strokeDash":{"field":"t","type":"nominal"},
 "strokeWidth":{"value":2.3}}},
{"data":{"name":"e1"},"mark":"line","encoding":{
 "x":{"field":"m","type":"quantitative","scale":{"type":"log","domain":[11.7,11200],"nice":false},"axis":{"title":null,"labels":false,"values":[20,30,40,50,60,70,80,90,100,200,300,400,500,600,700,800,900,1000,2000,3000,4000,5000,6000,7000,8000,9000,10000],"tickSize":{"condition":{"test":"indexof([100,1000,10000],datum.value)>=0","value":3.5},"value":2},"gridOpacity":{"condition":{"test":"indexof([100,1000,10000],datum.value)>=0","value":1},"value":0}}},
 "y":{"field":"v","type":"quantitative","scale":{"domain":[-0.05,1.05],"nice":false,"zero":false},"axis":{"values":[0,0.5,1],"format":".1f","title":"Test Acc (%)"}},
 "color":{"field":"a","type":"nominal"},
 "strokeWidth":{"value":2.3}}},
{"data":{"name":"e2"},"mark":"line","encoding":{
 "x":{"field":"m","type":"quantitative","scale":{"type":"log","domain":[11.7,11200],"nice":false},"axis":{"title":null,"labels":false,"values":[20,30,40,50,60,70,80,90,100,200,300,400,500,600,700,800,900,1000,2000,3000,4000,5000,6000,7000,8000,9000,10000],"tickSize":{"condition":{"test":"indexof([100,1000,10000],datum.value)>=0","value":3.5},"value":2},"gridOpacity":{"condition":{"test":"indexof([100,1000,10000],datum.value)>=0","value":1},"value":0}}},
 "y":{"field":"v","type":"quantitative","scale":{"domain":[-0.05,1.05],"nice":false,"zero":false},"axis":{"values":[0,0.5,1],"labels":false,"title":null}},
 "color":{"field":"a","type":"nominal"},
 "strokeWidth":{"value":2.3}}},
{"data":{"name":"e3"},"mark":"line","encoding":{
 "x":{"field":"m","type":"quantitative","scale":{"type":"log","domain":[11.7,11200],"nice":false},"axis":{"title":null,"labels":false,"values":[20,30,40,50,60,70,80,90,100,200,300,400,500,600,700,800,900,1000,2000,3000,4000,5000,6000,7000,8000,9000,10000],"tickSize":{"condition":{"test":"indexof([100,1000,10000],datum.value)>=0","value":3.5},"value":2},"gridOpacity":{"condition":{"test":"indexof([100,1000,10000],datum.value)>=0","value":1},"value":0}}},
 "y":{"field":"v","type":"quantitative","scale":{"domain":[-0.05,1.05],"nice":false,"zero":false},"axis":{"values":[0,0.5,1],"labels":false,"title":null}},
 "color":{"field":"a","type":"nominal"},
 "strokeWidth":{"value":2.3}}},
{"data":{"name":"e4"},"mark":"line","encoding":{
 "x":{"field":"m","type":"quantitative","scale":{"type":"log","domain":[11.7,11200],"nice":false},"axis":{"title":null,"labels":false,"values":[20,30,40,50,60,70,80,90,100,200,300,400,500,600,700,800,900,1000,2000,3000,4000,5000,6000,7000,8000,9000,10000],"tickSize":{"condition":{"test":"indexof([100,1000,10000],datum.value)>=0","value":3.5},"value":2},"gridOpacity":{"condition":{"test":"indexof([100,1000,10000],datum.value)>=0","value":1},"value":0}}},
 "y":{"field":"v","type":"quantitative","scale":{"domain":[-0.05,1.05],"nice":false,"zero":false},"axis":{"values":[0,0.5,1],"labels":false,"title":null}},
 "color":{"field":"a","type":"nominal"},
 "strokeWidth":{"value":2.3}}},
{"data":{"name":"e5"},"mark":"line","encoding":{
 "x":{"field":"m","type":"quantitative","scale":{"type":"log","domain":[11.7,11200],"nice":false},"axis":{"title":null,"labels":false,"values":[20,30,40,50,60,70,80,90,100,200,300,400,500,600,700,800,900,1000,2000,3000,4000,5000,6000,7000,8000,9000,10000],"tickSize":{"condition":{"test":"indexof([100,1000,10000],datum.value)>=0","value":3.5},"value":2},"gridOpacity":{"condition":{"test":"indexof([100,1000,10000],datum.value)>=0","value":1},"value":0}}},
 "y":{"field":"v","type":"quantitative","scale":{"domain":[-0.05,1.05],"nice":false,"zero":false},"axis":{"values":[0,0.5,1],"labels":false,"title":null}},
 "color":{"field":"a","type":"nominal"},
 "strokeWidth":{"value":2.3}}},
{"data":{"name":"l1"},"mark":"line","encoding":{
 "x":{"field":"m","type":"quantitative","scale":{"type":"log","domain":[11.7,11200],"nice":false},"axis":{"title":"Model Width 𝑀","labelExpr":"datum.value==100?'10²':datum.value==1000?'10³':datum.value==10000?'10⁴':''","values":[20,30,40,50,60,70,80,90,100,200,300,400,500,600,700,800,900,1000,2000,3000,4000,5000,6000,7000,8000,9000,10000],"tickSize":{"condition":{"test":"indexof([100,1000,10000],datum.value)>=0","value":3.5},"value":2},"gridOpacity":{"condition":{"test":"indexof([100,1000,10000],datum.value)>=0","value":1},"value":0}}},
 "y":{"field":"v","type":"quantitative","scale":{"type":"log","domain":[7.4e-5,66],"nice":false},"axis":{"values":[0.001,0.1,10],"labelExpr":"datum.value>5?'10¹':datum.value>0.05?'10⁻¹':'10⁻³'","title":"Test Loss"}},
 "color":{"field":"a","type":"nominal"},
 "strokeWidth":{"value":2.3}}},
{"data":{"name":"l2"},"mark":"line","encoding":{
 "x":{"field":"m","type":"quantitative","scale":{"type":"log","domain":[11.7,11200],"nice":false},"axis":{"title":"Model Width 𝑀","labelExpr":"datum.value==100?'10²':datum.value==1000?'10³':datum.value==10000?'10⁴':''","values":[20,30,40,50,60,70,80,90,100,200,300,400,500,600,700,800,900,1000,2000,3000,4000,5000,6000,7000,8000,9000,10000],"tickSize":{"condition":{"test":"indexof([100,1000,10000],datum.value)>=0","value":3.5},"value":2},"gridOpacity":{"condition":{"test":"indexof([100,1000,10000],datum.value)>=0","value":1},"value":0}}},
 "y":{"field":"v","type":"quantitative","scale":{"type":"log","domain":[7.4e-5,66],"nice":false},"axis":{"values":[0.001,0.1,10],"labels":false,"title":null}},
 "color":{"field":"a","type":"nominal"},
 "strokeWidth":{"value":2.3}}},
{"data":{"name":"l3"},"mark":"line","encoding":{
 "x":{"field":"m","type":"quantitative","scale":{"type":"log","domain":[11.7,11200],"nice":false},"axis":{"title":"Model Width 𝑀","labelExpr":"datum.value==100?'10²':datum.value==1000?'10³':datum.value==10000?'10⁴':''","values":[20,30,40,50,60,70,80,90,100,200,300,400,500,600,700,800,900,1000,2000,3000,4000,5000,6000,7000,8000,9000,10000],"tickSize":{"condition":{"test":"indexof([100,1000,10000],datum.value)>=0","value":3.5},"value":2},"gridOpacity":{"condition":{"test":"indexof([100,1000,10000],datum.value)>=0","value":1},"value":0}}},
 "y":{"field":"v","type":"quantitative","scale":{"type":"log","domain":[7.4e-5,66],"nice":false},"axis":{"values":[0.001,0.1,10],"labels":false,"title":null}},
 "color":{"field":"a","type":"nominal"},
 "strokeWidth":{"value":2.3}}},
{"data":{"name":"l4"},"mark":"line","encoding":{
 "x":{"field":"m","type":"quantitative","scale":{"type":"log","domain":[11.7,11200],"nice":false},"axis":{"title":"Model Width 𝑀","labelExpr":"datum.value==100?'10²':datum.value==1000?'10³':datum.value==10000?'10⁴':''","values":[20,30,40,50,60,70,80,90,100,200,300,400,500,600,700,800,900,1000,2000,3000,4000,5000,6000,7000,8000,9000,10000],"tickSize":{"condition":{"test":"indexof([100,1000,10000],datum.value)>=0","value":3.5},"value":2},"gridOpacity":{"condition":{"test":"indexof([100,1000,10000],datum.value)>=0","value":1},"value":0}}},
 "y":{"field":"v","type":"quantitative","scale":{"type":"log","domain":[7.4e-5,66],"nice":false},"axis":{"values":[0.001,0.1,10],"labels":false,"title":null}},
 "color":{"field":"a","type":"nominal"},
 "strokeWidth":{"value":2.3}}},
{"data":{"name":"l5"},"mark":"line","encoding":{
 "x":{"field":"m","type":"quantitative","scale":{"type":"log","domain":[11.7,11200],"nice":false},"axis":{"title":"Model Width 𝑀","labelExpr":"datum.value==100?'10²':datum.value==1000?'10³':datum.value==10000?'10⁴':''","values":[20,30,40,50,60,70,80,90,100,200,300,400,500,600,700,800,900,1000,2000,3000,4000,5000,6000,7000,8000,9000,10000],"tickSize":{"condition":{"test":"indexof([100,1000,10000],datum.value)>=0","value":3.5},"value":2},"gridOpacity":{"condition":{"test":"indexof([100,1000,10000],datum.value)>=0","value":1},"value":0}}},
 "y":{"field":"v","type":"quantitative","scale":{"type":"log","domain":[7.4e-5,66],"nice":false},"axis":{"values":[0.001,0.1,10],"labels":false,"title":null}},
 "color":{"field":"a","type":"nominal"},
 "strokeWidth":{"value":2.3}}}
]
}
